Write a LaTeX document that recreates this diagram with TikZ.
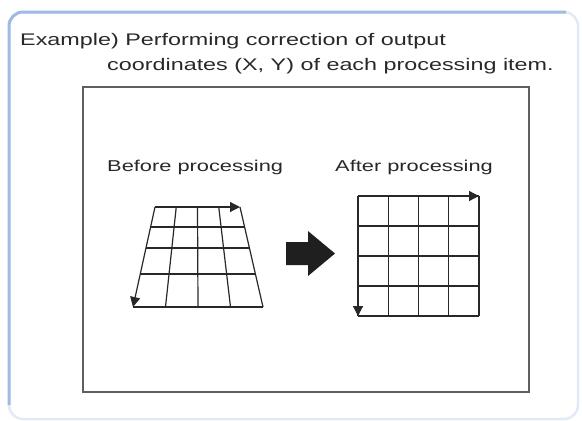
\documentclass[tikz,border=0pt]{standalone}
\usepackage{fontspec}
\setmainfont{Liberation Sans}[FakeStretch=1.39]
\usetikzlibrary{arrows.meta}
\definecolor{frameblue}{RGB}{160,186,228}
\definecolor{inkgray}{RGB}{40,40,40}
\definecolor{boxgray}{RGB}{95,95,95}

\begin{document}
\begin{tikzpicture}[
  x=1pt, y=-1pt,
  hdr/.style={anchor=base west, inner sep=0pt, text=inkgray, font=\fontsize{16.8}{20}\selectfont},
  lbl/.style={anchor=base west, inner sep=0pt, text=inkgray, font=\fontsize{15.7}{19}\selectfont},
  grd/.style={draw=inkgray, line width=1.2pt},
  axarr/.style={grd, -{Triangle[length=10pt, width=10pt]}}
]
\useasboundingbox (0,0) rectangle (582,421);

% outer frame
\draw[frameblue!30, line width=2.5pt, rounded corners=14pt] (9,12) rectangle (578,419);
\draw[frameblue, line width=3pt, rounded corners=14pt] (9,405) -- (9,12) -- (566,12);

% inner box
\draw[boxgray, line width=2pt] (83,87) rectangle (529,392);

% header text
\node[hdr] (hdrA) at (20,45) {Example) Performing correction of output};
\node[hdr] (hdrB) at (107,70) {coordinates (X, Y) of each processing item.};

\node[lbl] (before) at (107,171) {Before processing};
\node[lbl] (after) at (335,171) {After processing};

% before: distorted grid
\coordinate (bTL) at (155,207);
\coordinate (bTR) at (240,207);
\coordinate (bBL) at (133,307);
\coordinate (bBR) at (263,307);
\foreach \y in {227,248,274,307}
  \draw[grd] ({155-22*(\y-207)/100},\y) -- ({240+23*(\y-207)/100},\y);
\foreach \i in {1,2,3}
  \draw[grd] ({155+21.25*\i},207) -- ({133+32.5*\i},307);
\draw[grd] (bTR) -- (bBR);
\draw[axarr] (bTL) -- (bTR);
\draw[axarr] (bTL) -- (bBL);

% block arrow
\fill[black!88] (286,242) -- (308,242) -- (308,231) -- (335,253.5)
  -- (308,276) -- (308,265) -- (286,265) -- cycle;

% after: corrected grid
\coordinate (aTL) at (358,196);
\coordinate (aTR) at (479,196);
\coordinate (aBL) at (358,316);
\foreach \i in {0,...,4} {
  \draw[grd] ({358+30.25*\i},196) -- ({358+30.25*\i},316);
  \draw[grd] (358,{196+30*\i}) -- (479,{196+30*\i});
}
\draw[axarr] (aTL) -- (aTR);
\draw[axarr] (aTL) -- (aBL);
\end{tikzpicture}
\end{document}
